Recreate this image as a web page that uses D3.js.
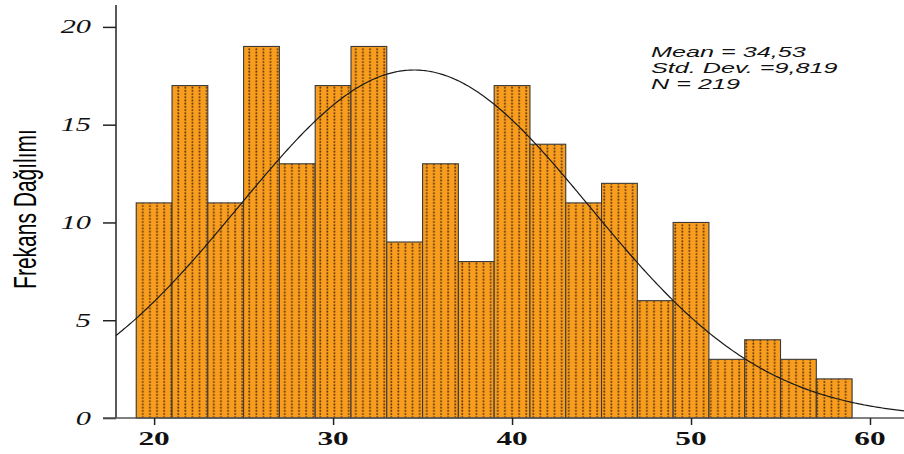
<!DOCTYPE html>
<html><head><meta charset="utf-8">
<script src="https://cdn.jsdelivr.net/npm/d3@7/dist/d3.min.js"></script>
<style>
html,body{margin:0;padding:0;background:#fff;}
svg{display:block;}
</style></head>
<body>
<svg id="chart" width="904" height="454"></svg>
<script>
const binLower = [19,21,23,25,27,29,31,33,35,37,39,41,43,45,47,49,51,53,55,57];
const binWidth = 2;
const counts = [11,17,11,19,13,17,19,9,13,8,17,14,11,12,6,10,3,4,3,2];
const yTicks = [0,5,10,15,20];
const xTicks = [20,30,40,50,60];
const stats = {mean:34.53, sd:9.819, n:219};
const statLines = ["Mean = 34,53","Std. Dev. =9,819","N = 219"];
const yLabel = "Frekans Dağılımı";

const svg = d3.select("#chart");
const x = d3.scaleLinear().domain([17.87, 61.9]).range([116, 904]);
const y = d3.scaleLinear().domain([0, 21.12]).range([418, 5]);

const defs = svg.append("defs");
const pat = defs.append("pattern").attr("id","dots").attr("patternUnits","userSpaceOnUse")
  .attr("width",7.1).attr("height",3.2).attr("x",139);
pat.append("rect").attr("width",7.1).attr("height",3.2).attr("fill","#F99D1F");
pat.append("rect").attr("x",3).attr("y",0.4).attr("width",1.6).attr("height",1.7).attr("fill","#4f2d06");

// bars
svg.append("g").selectAll("rect").data(binLower).join("rect")
  .attr("x", (d)=>x(d))
  .attr("y", (d,i)=>y(counts[i]))
  .attr("width", (d)=>x(d+binWidth)-x(d))
  .attr("height", (d,i)=>y(0)-y(counts[i]))
  .attr("fill","url(#dots)")
  .attr("stroke","#3a3a3a").attr("stroke-width",1.1);

// normal curve
const pdf = v => stats.n*binWidth/(stats.sd*Math.sqrt(2*Math.PI))*Math.exp(-0.5*Math.pow((v-stats.mean)/stats.sd,2));
const xs = d3.range(0, 401).map(i => x.domain()[0] + (x.domain()[1]-x.domain()[0])*i/400);
svg.append("path").datum(xs)
  .attr("d", d3.line().x(v=>x(v)).y(v=>y(pdf(v))))
  .attr("fill","none").attr("stroke","#1a1a1a").attr("stroke-width",1.2);

// axes
const yAxis = svg.append("g").attr("transform","translate(116,0)")
  .call(d3.axisLeft(y).tickValues(yTicks).tickSize(13).tickFormat(""));
yAxis.select(".domain").attr("stroke","#222").attr("stroke-width",1.5).attr("d","M0,5V418");
yAxis.selectAll(".tick line").attr("stroke","#222").attr("stroke-width",1.5);

const xAxis = svg.append("g").attr("transform","translate(0,418)")
  .call(d3.axisBottom(x).tickValues(xTicks).tickSize(7).tickFormat(""));
xAxis.select(".domain").attr("stroke","#555").attr("stroke-width",1.5).attr("d","M103,0H904");
xAxis.selectAll(".tick line").attr("stroke","#222").attr("stroke-width",1.5);

// y tick labels
svg.append("g").selectAll("text").data(yTicks).join("text")
  .attr("transform", d=>`translate(91,${y(d)+6.5}) scale(1.6,1)`)
  .attr("text-anchor","end")
  .attr("font-family","'Liberation Serif', serif").attr("font-style","italic")
  .attr("font-size",19).attr("fill","#111").text(d=>d);

// x tick labels
svg.append("g").selectAll("text").data(xTicks).join("text")
  .attr("transform", d=>`translate(${x(d)},445) scale(1.65,1)`)
  .attr("text-anchor","middle")
  .attr("font-family","'Liberation Serif', serif").attr("font-weight","bold")
  .attr("font-size",19).attr("fill","#111").text(d=>d);

// y label
svg.append("text")
  .attr("transform","translate(36,209) scale(1.45,1) rotate(-90)")
  .attr("text-anchor","middle")
  .attr("font-family","'Liberation Sans', Arial, sans-serif")
  .attr("font-size",21).attr("fill","#000").text(yLabel);

// stats
svg.append("g").selectAll("text").data(statLines).join("text")
  .attr("transform",(d,i)=>`translate(651,${56.5+i*16}) scale(1.68,1)`)
  .attr("font-family","'Liberation Sans', Arial, sans-serif").attr("font-style","italic")
  .attr("font-size",15).attr("fill","#111").text(d=>d);
</script>
</body></html>
